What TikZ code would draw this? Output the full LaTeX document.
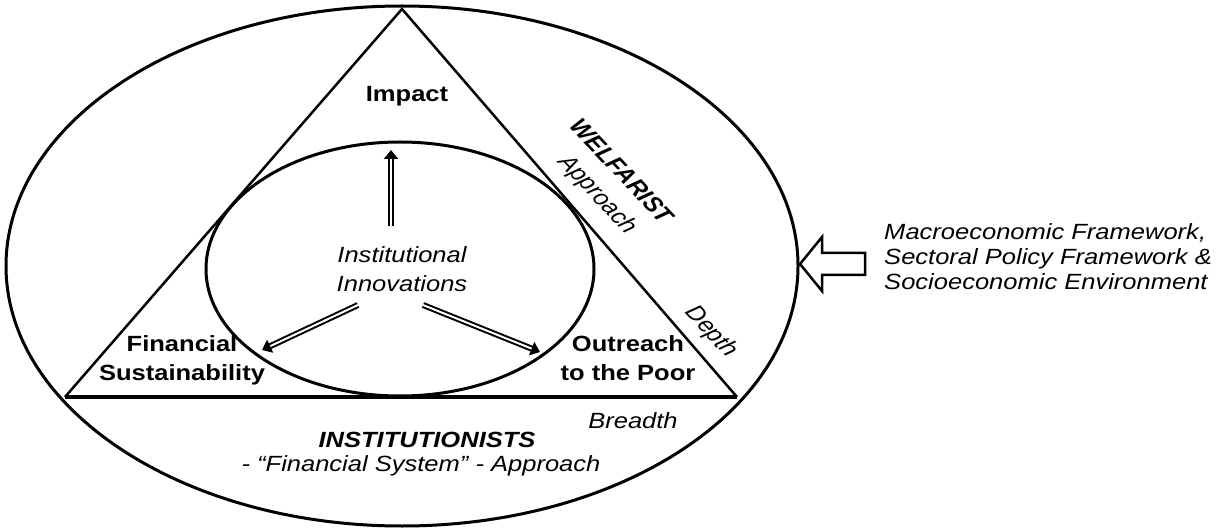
\documentclass[tikz,border=0pt]{standalone}
\usepackage{fontspec}
\setmainfont{Liberation Sans}
\usetikzlibrary{arrows.meta}
\newcommand\lblfs{\fontsize{22}{25}\selectfont}
\begin{document}
\begin{tikzpicture}[x=1pt,y=-1pt,
  lbl/.style={inner sep=0pt, anchor=base, xscale=1.16, font=\lblfs},
  bl/.style={lbl, font=\lblfs\bfseries},
  it/.style={lbl, font=\lblfs\itshape},
  bi/.style={lbl, font=\lblfs\bfseries\itshape},
  dbl/.style={line width=2pt, double=white, double distance=2pt,
    -{Triangle[length=9pt,width=14pt]}},
  ring/.style={line width=3pt},
  side/.style={line width=2.5pt, line join=miter}]
\useasboundingbox (0,0) rectangle (1218,529);
% outer ellipse
\draw[ring] (402,266) ellipse [x radius=396pt, y radius=260pt];
% triangle
\coordinate (apex) at (402,9);
\coordinate (bl) at (65,397);
\coordinate (br) at (737,397);
\draw[side] (bl) -- (apex) -- (br);
\draw[line width=3.5pt] (bl) -- (br);
% inner ellipse
\draw[ring] (400,269) ellipse [x radius=194pt, y radius=127pt];
% labels
\node[bl] (impact) at (407,102) {Impact};
\node[bl] (fin1) at (182,352) {Financial};
\node[bl] (fin2) at (182,380) {Sustainability};
\node[bl] (out1) at (628,352) {Outreach};
\node[bl] (out2) at (628,380) {to the Poor};
\node[it] (inst1) at (402,263) {Institutional};
\node[it] (inst2) at (402,291) {Innovations};
\node[bi, anchor=center, rotate=-50.8] (welf) at (622,171) {WELFARIST};
\node[it, anchor=center, rotate=-50.8] (appr) at (597,195) {Approach};
\node[it, anchor=center, rotate=-50.8] (depth) at (711,332) {Depth};
\node[it] (breadth) at (633,428) {Breadth};
\node[bi] (instit) at (427,447) {INSTITUTIONISTS};
\node[it] (fsys) at (421,471) {- \textquotedblleft Financial System\textquotedblright\ - Approach};
\node[it, anchor=base west] (mac1) at (884,240) {Macroeconomic Framework,};
\node[it, anchor=base west] (mac2) at (884,265) {Sectoral Policy Framework \&};
\node[it, anchor=base west] (mac3) at (884,290) {Socioeconomic Environment};
% inner arrows
\coordinate (aus) at (391,226); \coordinate (aue) at (391,150);
\coordinate (als) at (358,305); \coordinate (ale) at (262,350);
\coordinate (ars) at (423,305); \coordinate (are) at (540,352);
\draw[dbl] (aus) -- (aue);
\draw[dbl] (als) -- (ale);
\draw[dbl] (ars) -- (are);
% hollow arrow
\draw[line width=2.5pt, line join=miter] (800,264) -- (822,237) -- (822,253) -- (865,253)
  -- (865,275) -- (822,275) -- (822,291) -- cycle;
\end{tikzpicture}
\end{document}
